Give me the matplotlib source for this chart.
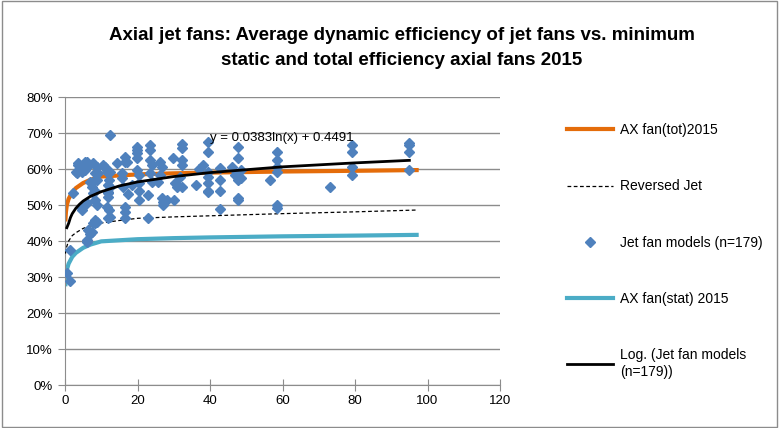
import matplotlib
matplotlib.use('Agg')
import matplotlib.pyplot as plt
from matplotlib.ticker import PercentFormatter
from matplotlib.patches import Rectangle

plt.rcParams['font.family'] = ['Liberation Sans', 'DejaVu Sans']

# scatter: jet fan models (x = power, y = efficiency)
jet_x = [0.5, 1.4, 1.4, 2.3, 3.0, 3.2, 3.7, 3.7,
         4.6, 4.6, 4.6, 4.6, 5.5, 5.5, 6.0, 6.0, 6.0, 6.0, 6.0, 6.3,
         6.9, 6.9, 7.4, 7.4, 7.7, 7.7, 7.7, 7.7,
         8.3, 8.3, 8.3, 8.3, 8.3, 8.7, 8.7, 8.7, 8.7, 9.1,
         10.5, 11.0, 11.5, 11.5, 11.5, 11.9, 11.9, 11.9, 11.9, 11.9,
         12.0, 12.0, 12.4, 12.4, 12.4, 12.4, 14.3, 15.6, 15.6, 16.0,
         16.6, 16.6, 16.6, 16.6, 17.0, 16.5, 17.5, 18.5,
         19.8, 19.8, 19.8, 19.8, 19.8, 20.5, 20.5, 20.5, 20.5,
         23.0, 23.0, 23.4, 23.4, 23.4, 23.4, 23.9, 23.9,
         25.7, 26.2, 26.2, 26.7, 26.7, 27.0, 27.0, 28.0,
         29.8, 30.0, 30.3, 30.8, 31.7, 32.2, 32.2, 32.2, 32.2, 32.2,
         36.0, 37.0, 38.0, 39.4, 39.4, 39.4, 39.4, 39.4, 39.4, 39.4,
         42.8, 42.8, 42.8, 42.8, 46.0, 47.0,
         47.7, 47.7, 47.7, 47.7, 47.7, 48.5, 48.5,
         56.5, 58.4, 58.4, 58.4, 58.4, 58.4, 58.4,
         73.1, 79.1, 79.1, 79.1, 79.1, 95.0, 95.0, 95.0, 95.0]
jet_y = [0.31, 0.29, 0.375, 0.533, 0.593, 0.589, 0.616, 0.61,
         0.606, 0.592, 0.492, 0.486, 0.62, 0.597, 0.62, 0.606, 0.505, 0.403, 0.398, 0.43,
         0.42, 0.565, 0.551, 0.425, 0.616, 0.565, 0.533, 0.45,
         0.589, 0.514, 0.458, 0.45, 0.54, 0.606, 0.50, 0.454, 0.57, 0.589,
         0.61, 0.606, 0.597, 0.592, 0.494, 0.555, 0.537, 0.523, 0.533, 0.464,
         0.486, 0.57, 0.694, 0.592, 0.467, 0.55, 0.616, 0.59, 0.575, 0.55,
         0.634, 0.62, 0.494, 0.48, 0.62, 0.464, 0.53, 0.555,
         0.662, 0.653, 0.644, 0.63, 0.597, 0.583, 0.56, 0.54, 0.514,
         0.464, 0.528, 0.667, 0.653, 0.625, 0.59, 0.61, 0.564,
         0.564, 0.62, 0.583, 0.606, 0.52, 0.508, 0.50, 0.514,
         0.63, 0.514, 0.56, 0.55, 0.578, 0.67, 0.658, 0.625, 0.61, 0.55,
         0.555, 0.60, 0.61, 0.675, 0.647, 0.592, 0.578, 0.56, 0.54, 0.536,
         0.603, 0.57, 0.54, 0.49, 0.606, 0.583,
         0.66, 0.63, 0.57, 0.52, 0.514, 0.575, 0.597,
         0.57, 0.647, 0.625, 0.606, 0.592, 0.50, 0.492,
         0.55, 0.667, 0.648, 0.606, 0.583, 0.672, 0.667, 0.648, 0.597]

# minimum efficiency curves
curve_x = [0.125, 0.25, 0.5, 1, 2, 3, 5, 7, 10, 15, 20, 30, 40, 60, 80, 97]
tot_y = [0.46, 0.48, 0.50, 0.517, 0.536, 0.547, 0.561, 0.570, 0.579, 0.582,
         0.585, 0.588, 0.590, 0.593, 0.595, 0.597]
stat_y = [0.28, 0.30, 0.32, 0.337, 0.356, 0.367, 0.381, 0.390, 0.399, 0.402,
          0.405, 0.408, 0.410, 0.413, 0.415, 0.417]
rev_y = [0.365, 0.375, 0.385, 0.40, 0.415, 0.423, 0.435, 0.442, 0.45, 0.457,
         0.463, 0.467, 0.47, 0.476, 0.481, 0.486]

# log trendline of the jet fan models
trend_x = [0.5, 1, 1.5, 2, 3, 4, 5, 7, 10, 15, 20, 30, 40, 60, 80, 95]
trend_y = [0.437, 0.449, 0.465, 0.476, 0.491, 0.502, 0.511, 0.524, 0.537, 0.553,
           0.564, 0.579, 0.590, 0.606, 0.617, 0.624]

fig = plt.figure(figsize=(7.79, 4.28), dpi=100)
ax = fig.add_axes([65 / 779, 1 - 385 / 428, 435 / 779, 288 / 428])

ax.plot(curve_x, tot_y, color='#E46C0A', lw=3, zorder=2, label='AX fan(tot)2015')
ax.plot(curve_x, rev_y, color='black', lw=0.9, ls=(0, (3, 2)), zorder=3, label='Reversed Jet')
ax.plot(jet_x, jet_y, ls='none', marker='D', ms=4.8, color='#4F81BD', zorder=4,
        label='Jet fan models (n=179)')
ax.plot(curve_x, stat_y, color='#4BACC6', lw=3, zorder=2, label='AX fan(stat) 2015')
ax.plot(trend_x, trend_y, color='black', lw=2, zorder=5, label='Log. (Jet fan models\n(n=179))')

ax.text(40, 0.685, 'y = 0.0383ln(x) + 0.4491', fontsize=9.5, va='center', ha='left', zorder=6)

ax.set_xlim(0, 120)
ax.set_ylim(0, 0.8)
ax.set_xticks(range(0, 121, 20))
ax.set_yticks([i / 10 for i in range(9)])
ax.yaxis.set_major_formatter(PercentFormatter(xmax=1, decimals=0))
ax.grid(axis='y', color='#8C8C8C', lw=1)
ax.set_axisbelow(True)
for s in ['top', 'right']:
    ax.spines[s].set_visible(False)
for s in ['left', 'bottom']:
    ax.spines[s].set_color('#8C8C8C')
ax.tick_params(axis='both', colors='#8C8C8C', labelcolor='black', labelsize=9.5, length=5)
ax.tick_params(axis='x', direction='inout', length=8)
ax.tick_params(axis='y', direction='out', length=5)

fig.text(402 / 779, 1 - 48 / 428,
         'Axial jet fans: Average dynamic efficiency of jet fans vs. minimum\n'
         'static and total efficiency axial fans 2015',
         ha='center', va='center', fontsize=13.5, fontweight='bold', linespacing=1.55)

ax.legend(loc='upper left', bbox_to_anchor=(567 / 779, 1 - 123 / 428),
          bbox_transform=fig.transFigure, frameon=False, fontsize=10,
          labelspacing=3.05, handlelength=3.3, handletextpad=0.5,
          borderpad=0, borderaxespad=0)

fig.patches.append(Rectangle((0.002, 0.003), 0.995, 0.994, transform=fig.transFigure,
                             fill=False, edgecolor='#8C8C8C', lw=1))

fig.savefig('out.png', dpi=100)
